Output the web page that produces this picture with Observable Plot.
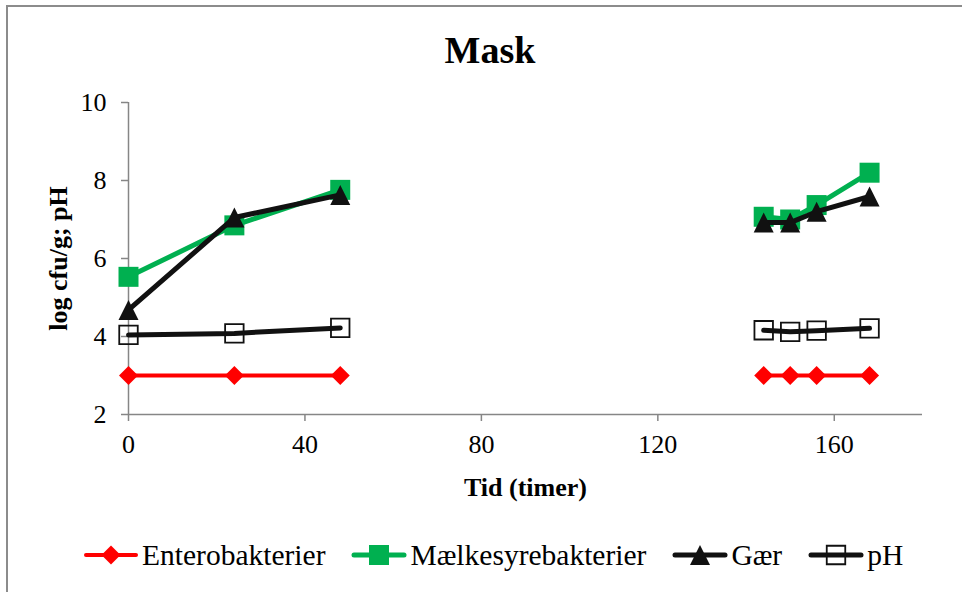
<!DOCTYPE html>
<html>
<head>
<meta charset="utf-8">
<script src="https://cdn.jsdelivr.net/npm/d3@7"></script>
<script src="https://cdn.jsdelivr.net/npm/@observablehq/plot@0.6"></script>
<style>
  body { margin: 0; background: #fff; }
  #page { position: relative; width: 962px; height: 592px; overflow: hidden;
          font-family: "Liberation Serif", "Times New Roman", serif; color: #000; }
  #edge { position: absolute; left: 6px; top: 5px; width: 980px; height: 610px;
          border-left: 2px solid #8c8c8c; border-top: 2px solid #8c8c8c; }
  #title { position: relative; height: 80px; box-sizing: border-box; padding-top: 31px; padding-left: 18px;
           text-align: center; font-size: 38px; font-weight: bold; line-height: 1; }
  #chart svg { display: block; overflow: visible; }
  #legend { position: relative; height: 82px; box-sizing: border-box; padding-top: 8px; padding-left: 83px;
            display: flex; align-items: center; font-size: 29.5px; }
  .item { display: flex; align-items: center; margin-right: 26px; }
  .item svg { display: block; margin-right: 3px; }
</style>
</head>
<body>
<div id="page">
  <div id="edge"></div>
  <div id="title">Mask</div>
  <div id="chart"></div>
  <div id="legend"></div>
</div>
<script>
// Sampling times (hours) and measured values per series
const hours = [0, 24, 48, 144, 150, 156, 168];
const enterobakterier = [3, 3, 3, 3, 3, 3, 3];
const maelkesyrebakterier = [5.53, 6.85, 7.76, 7.07, 7.0, 7.37, 8.2];
const gaer = [4.68, 7.05, 7.63, 6.92, 6.92, 7.2, 7.59];
const ph = [4.04, 4.08, 4.22, 4.16, 4.12, 4.15, 4.21];

const seriesNames = ["Enterobakterier", "Mælkesyrebakterier", "Gær", "pH"];
const xTicks = [0, 40, 80, 120, 160];
const yTicks = [2, 4, 6, 8, 10];
const xLabel = "Tid (timer)";
const yLabel = "log cfu/g; pH";

// Marker shapes: side length = sqrt(size)
const diamond = { draw(ctx, size) { const h = Math.sqrt(size) / 2;
  ctx.moveTo(0, -h); ctx.lineTo(h, 0); ctx.lineTo(0, h); ctx.lineTo(-h, 0); ctx.closePath(); } };
const triangle = { draw(ctx, size) { const h = Math.sqrt(size) / 2;
  ctx.moveTo(0, -h); ctx.lineTo(h, h); ctx.lineTo(-h, h); ctx.closePath(); } };
const square = { draw(ctx, size) { const h = Math.sqrt(size) / 2;
  ctx.moveTo(-h, -h); ctx.lineTo(h, -h); ctx.lineTo(h, h); ctx.lineTo(-h, h); ctx.closePath(); } };

// Plot radius whose symbol area equals s*s
const rFor = s => s / Math.sqrt(Math.PI);

const series = [
  { name: seriesNames[0], values: enterobakterier, color: "#ff0000", width: 4, symbol: diamond, size: 19, fill: "#ff0000", mstroke: "none", mwidth: 0 },
  { name: seriesNames[1], values: maelkesyrebakterier, color: "#00b050", width: 5, symbol: square, size: 20, fill: "#00b050", mstroke: "none", mwidth: 0 },
  { name: seriesNames[2], values: gaer, color: "#111", width: 5, symbol: triangle, size: 20, fill: "#111", mstroke: "none", mwidth: 0 },
  { name: seriesNames[3], values: ph, color: "#111", width: 5, symbol: square, size: 18.5, fill: "none", mstroke: "#111", mwidth: 1.8 }
];

// Two sampling runs: up to 48 h, then from 144 h on (no measurements in between)
const runOf = t => (t <= 48 ? 0 : 1);

const axisGray = "#868686";

const seriesMarks = series.flatMap(s => {
  const rows = hours.map((t, i) => ({ t, v: s.values[i], run: runOf(t) }));
  return [
    Plot.line(rows, { x: "t", y: "v", z: "run", stroke: s.color, strokeWidth: s.width,
                      strokeLinecap: "round", strokeLinejoin: "round" }),
    Plot.dot(rows, { x: "t", y: "v", symbol: s.symbol, r: rFor(s.size), fill: s.fill,
                     stroke: s.mstroke, strokeWidth: s.mwidth })
  ];
});

const chart = Plot.plot({
  width: 962,
  height: 430,
  marginLeft: 128,
  marginRight: 40,
  marginTop: 22,
  marginBottom: 96,
  style: { fontFamily: "Liberation Serif, Times New Roman, serif", fontSize: "26px", color: "#000", background: "transparent" },
  x: { domain: [0, 180] },
  y: { domain: [2, 10] },
  marks: [
    Plot.ruleX([0], { stroke: axisGray, strokeWidth: 1.5 }),
    Plot.ruleY([2], { stroke: axisGray, strokeWidth: 1.5 }),
    Plot.axisX({ ticks: xTicks, tickSize: 7, tickPadding: 13, stroke: axisGray, strokeWidth: 1.5, fill: "#000", label: null }),
    Plot.axisY({ ticks: yTicks, tickSize: 7, tickPadding: 15, stroke: axisGray, strokeWidth: 1.5, fill: "#000", label: null }),
    Plot.text([xLabel], { text: d => d, frameAnchor: "bottom", dy: 73, lineAnchor: "middle", textAnchor: "middle",
                          fontWeight: "bold", fontSize: 26, fill: "#000" }),
    Plot.text([yLabel], { text: d => d, frameAnchor: "left", dx: -70, rotate: -90, lineAnchor: "middle", textAnchor: "middle",
                          fontWeight: "bold", fontSize: 26, fill: "#000" }),
    ...seriesMarks
  ]
});
document.getElementById("chart").append(chart);

// Legend: line swatch with marker, then series name
const legend = d3.select("#legend");
series.forEach(s => {
  const item = legend.append("div").attr("class", "item");
  const svg = item.append("svg").attr("width", 56).attr("height", 30);
  svg.append("line").attr("x1", 3).attr("x2", 53).attr("y1", 15).attr("y2", 15)
    .attr("stroke", s.color).attr("stroke-width", s.width).attr("stroke-linecap", "round");
  svg.append("path").attr("transform", "translate(28,15)")
    .attr("d", d3.symbol(s.symbol, s.size * s.size)())
    .attr("fill", s.fill).attr("stroke", s.mstroke).attr("stroke-width", s.mwidth);
  item.append("span").text(s.name);
});
</script>
</body>
</html>
